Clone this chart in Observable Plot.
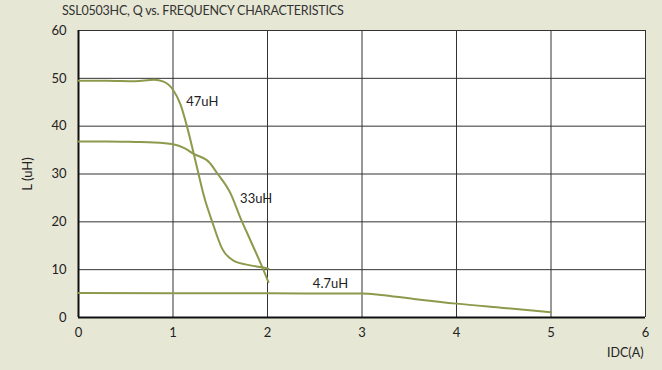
<!DOCTYPE html>
<html><head><meta charset="utf-8">
<script src="https://cdn.jsdelivr.net/npm/d3@7"></script>
<script src="https://cdn.jsdelivr.net/npm/@observablehq/plot@0.6"></script>
<style>
body{margin:0;background:#e7e7d5;width:662px;height:370px;overflow:hidden;font-family:Lato,sans-serif;}
#title{position:absolute;left:62px;top:3px;font-size:12.5px;color:#333;letter-spacing:-0.2px;}
#chart{position:absolute;left:0;top:22px;}
</style></head><body>
<div id="title">SSL0503HC, Q vs. FREQUENCY CHARACTERISTICS</div>
<div id="chart"></div>
<script>
const xTicks = [0,1,2,3,4,5,6];
const yTicks = [0,10,20,30,40,50,60];
const l47x = [0, 0.3, 0.6, 0.8, 0.9, 1.0, 1.08, 1.15, 1.22, 1.34, 1.41, 1.52, 1.64, 1.82, 1.94, 2.01];
const l47y = [49.5, 49.5, 49.4, 49.7, 49.3, 47.6, 44.5, 39.8, 34.2, 24.5, 20.3, 14.4, 11.9, 10.9, 10.5, 10.2];
const l33x = [0, 0.3, 0.6, 0.8, 1.0, 1.12, 1.22, 1.38, 1.47, 1.61, 1.71, 1.82, 1.93, 2.01];
const l33y = [36.8, 36.8, 36.7, 36.6, 36.2, 35.4, 34.2, 32.5, 30.1, 25.9, 21.0, 16.1, 11.2, 7.4];
const l4x = [0, 1, 2, 2.8, 3.0, 3.2, 3.5, 4.0, 4.5, 5.0];
const l4y = [5.1, 5.05, 5.05, 5.0, 5.0, 4.7, 4.0, 2.9, 2.0, 1.1];
const labels = ["47uH", "33uH", "4.7uH"];
const labelX = [1.14, 1.71, 2.48];
const labelY = [45.0, 24.9, 7.1];
const xLabel = "IDC(A)";
const yLabel = "L (uH)";

const series = [
  ...l47x.map((x,i)=>({s:"47", x, y:l47y[i]})),
  ...l33x.map((x,i)=>({s:"33", x, y:l33y[i]})),
  ...l4x.map((x,i)=>({s:"4.7", x, y:l4y[i]}))
];
const lab = labels.map((t,i)=>({t, x:labelX[i], y:labelY[i]}));

const plot = Plot.plot({
  width: 662, height: 348,
  marginLeft: 78, marginRight: 17, marginTop: 8, marginBottom: 53,
  style: {fontFamily: "Lato, sans-serif", fontSize: "13px", color: "#222", background: "transparent"},
  x: {domain: [0, 6]},
  y: {domain: [0, 60]},
  marks: [
    Plot.frame({fill: "white", stroke: "none"}),
    Plot.ruleX(xTicks.slice(1), {stroke: "#333", strokeWidth: 1}),
    Plot.ruleY(yTicks.slice(1), {stroke: "#333", strokeWidth: 1}),
    Plot.ruleX([0], {stroke: "#111", strokeWidth: 2}),
    Plot.ruleY([0], {stroke: "#111", strokeWidth: 2}),
    Plot.line(series, {x: "x", y: "y", z: "s", stroke: "#8c9a4c", strokeWidth: 2, curve: "monotone-x"}),
    Plot.text(lab, {x: "x", y: "y", text: "t", textAnchor: "start", fontSize: 13, fill: "#222"}),
    Plot.axisX(xTicks, {tickSize: 0, tickPadding: 10, label: null, fontSize: 13}),
    Plot.text([xLabel], {frameAnchor: "bottom-right", dx: -2, dy: 39, textAnchor: "end", fontSize: 12.5, fill: "#222"}),
    Plot.axisY(yTicks, {tickSize: 0, tickPadding: 12, label: yLabel, labelAnchor: "center", labelArrow: "none", labelOffset: 56, fontSize: 13})
  ]
});
document.getElementById("chart").appendChild(plot);
</script>
</body></html>
